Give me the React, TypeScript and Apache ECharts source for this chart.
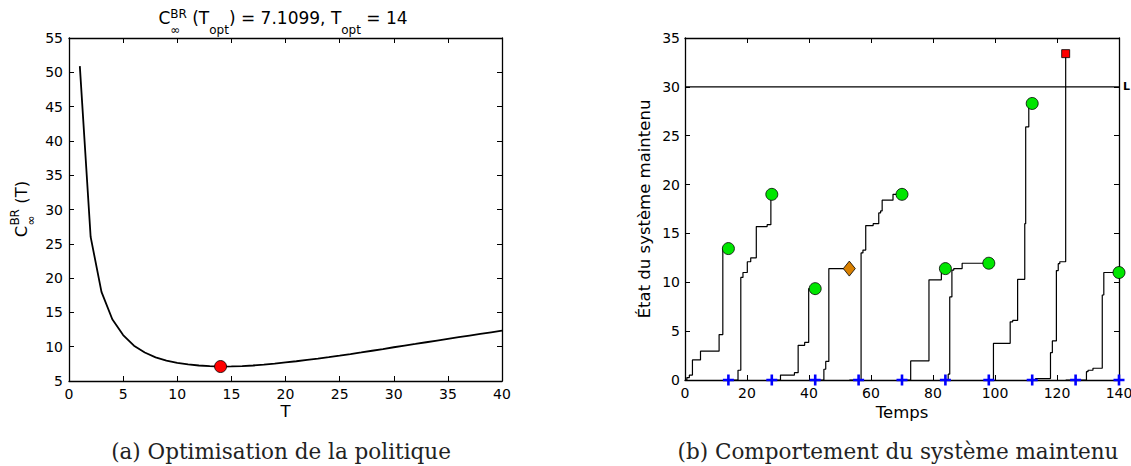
import React, { useEffect, useRef } from "react";
import * as echarts from "echarts";

// ---------- (a) cost curve ----------
const costT = [1, 2, 3, 4, 5, 6, 7, 8, 9, 10, 11, 12, 13, 14, 15, 16, 17, 18, 19, 20, 21, 22, 23, 24, 25, 26, 27, 28, 29, 30, 31, 32, 33, 34, 35, 36, 37, 38, 39, 40];
const costC = [50.9, 26.0, 18.0, 14.0, 11.7, 10.15, 9.15, 8.45, 7.98, 7.65, 7.42, 7.26, 7.16, 7.11, 7.12, 7.17, 7.26, 7.38, 7.54, 7.71, 7.88, 8.07, 8.26, 8.47, 8.69, 8.92, 9.16, 9.41, 9.66, 9.92, 10.16, 10.4, 10.65, 10.9, 11.14, 11.38, 11.62, 11.86, 12.1, 12.33];
const tOpt = 14;
const cOpt = 7.1099;

// ---------- (b) maintained system behaviour ----------
const cycle1T = [0, 0.6, 1.4, 2.4, 5.0, 11.0, 12.2, 14];
const cycle1V = [0, 0.25, 0.5, 2.05, 2.95, 4.65, 13.45, 13.45];
const cycle2T = [14, 17.1, 18.0, 18.7, 20.1, 21.2, 23.0, 26.5, 27.7, 28];
const cycle2V = [0, 1.0, 10.5, 11.0, 12.1, 12.5, 15.7, 15.9, 19.0, 19.0];
const cycle3T = [28, 30.8, 35.3, 36.5, 38.6, 39.9, 42];
const cycle3V = [0, 0.5, 0.75, 3.55, 3.85, 9.35, 9.35];
const cycle4T = [42, 44.8, 45.4, 46.4, 53];
const cycle4V = [0, 1.1, 1.9, 11.4, 11.4];
const cycle5T = [53, 56.8, 57.4, 58.3, 60.7, 62.5, 63.1, 63.6, 67.1, 70];
const cycle5V = [0, 13.0, 13.3, 15.8, 16.0, 17.1, 17.3, 18.4, 19.0, 19.0];
const cycle6T = [70, 72.8, 78.7, 82.7, 84];
const cycle6V = [0, 1.95, 10.25, 11.4, 11.4];
const cycle7T = [84, 84.9, 85.4, 86.1, 86.7, 89.4, 98];
const cycle7V = [0, 0.6, 8.5, 11.25, 11.4, 11.95, 11.95];
const cycle8T = [98, 99.5, 104.9, 105.7, 107.3, 109.6, 109.9, 110.9, 112];
const cycle8V = [0, 3.75, 5.95, 6.1, 10.3, 16.0, 25.9, 28.3, 28.3];
const cycle9T = [112, 113.1, 117.9, 118.5, 119.8, 120.4, 120.9, 122.8];
const cycle9V = [0, 0.15, 2.8, 4.0, 11.2, 11.9, 12.1, 33.4];
const cycle10T = [122.8, 129.5, 130.0, 131.6, 134.6, 135.1, 140];
const cycle10V = [0, 0.85, 1.0, 1.2, 8.7, 11.0, 11.0];

const inspectionTimes = [14, 28, 42, 56, 70, 84, 98, 112, 126, 140];
const pmTimes = [14, 28, 42, 70, 84, 98, 112, 140];
const pmStates = [13.45, 19.0, 9.35, 19.0, 11.4, 11.95, 28.3, 11.0];
const failureT = [53];
const failureV = [11.4];
const breakdownT = [122.8];
const breakdownV = [33.4];
const thresholdL = 30;

const SANS = '"DejaVu Sans", sans-serif';
const SERIF = '"DejaVu Serif", serif';

let measureCtx: CanvasRenderingContext2D | null = null;
function textWidth(text: string, size: number, family = SANS) {
  if (!measureCtx) measureCtx = document.createElement("canvas").getContext("2d");
  measureCtx!.font = `${size}px ${family}`;
  return measureCtx!.measureText(text).width;
}

type Piece = { text: string; size: number; shift: number; stackNext?: boolean };

function layoutPieces(pieces: Piece[], centerX: number, baselineY: number) {
  const pos: number[] = [];
  let x = 0;
  for (let i = 0; i < pieces.length; i++) {
    const p = pieces[i];
    pos.push(x);
    if (p.stackNext && i + 1 < pieces.length) {
      const q = pieces[i + 1];
      pos.push(x);
      x += Math.max(textWidth(p.text, p.size), textWidth(q.text, q.size));
      i++;
    } else {
      x += textWidth(p.text, p.size);
    }
  }
  const start = centerX - x / 2;
  return pieces.map((p, i) => ({
    type: "text",
    x: start + pos[i],
    y: baselineY + p.shift - 0.346 * p.size,
    silent: true,
    style: {
      text: p.text,
      font: `${p.size}px ${SANS}`,
      fill: "#000",
      align: "left",
      verticalAlign: "middle",
    },
  }));
}

const titlePieces: Piece[] = [
  { text: "C", size: 17, shift: 0 },
  { text: "BR", size: 12, shift: -5.5, stackNext: true },
  { text: "\u221e", size: 12, shift: 10.5 },
  { text: " (T", size: 17, shift: 0 },
  { text: "opt", size: 12, shift: 11 },
  { text: ") = 7.1099, T", size: 17, shift: 0 },
  { text: "opt", size: 12, shift: 11 },
  { text: " = 14", size: 17, shift: 0 },
];

const yLabelPieces: Piece[] = [
  { text: "C", size: 16.5, shift: 0 },
  { text: "BR", size: 12, shift: -8, stackNext: true },
  { text: "\u221e", size: 12, shift: 8 },
  { text: " (T)", size: 16.5, shift: 0 },
];

function axisPair(gridIndex: number, min: number, max: number, interval: number, isX: boolean, fontSize: number, labelMargin: number) {
  const common = {
    type: "value",
    gridIndex,
    min,
    max,
    interval,
    axisLine: { show: true, onZero: false, lineStyle: { color: "#000", width: 1.3 } },
    axisTick: { show: true, inside: true, length: 5, lineStyle: { color: "#000", width: 1 } },
    splitLine: { show: false },
  };
  return [
    {
      ...common,
      position: isX ? "bottom" : "left",
      axisLabel: { show: true, color: "#000", fontSize, fontFamily: SANS, margin: labelMargin, hideOverlap: false },
    },
    {
      ...common,
      position: isX ? "top" : "right",
      axisLabel: { show: false },
    },
  ];
}

export default function App() {
  const ref = useRef<HTMLDivElement>(null);
  useEffect(() => {
    if (!ref.current) return;
    const chart = echarts.init(ref.current, null, { renderer: "svg", width: 1131, height: 466 });

    const cycles = [
      [cycle1T, cycle1V], [cycle2T, cycle2V], [cycle3T, cycle3V], [cycle4T, cycle4V], [cycle5T, cycle5V],
      [cycle6T, cycle6V], [cycle7T, cycle7V], [cycle8T, cycle8V], [cycle9T, cycle9V], [cycle10T, cycle10V],
    ];

    const cycleSeries = cycles.map(([ts, vs]) => ({
      type: "line",
      xAxisIndex: 2,
      yAxisIndex: 2,
      step: "end",
      symbol: "none",
      silent: true,
      lineStyle: { color: "#000", width: 1.2 },
      data: ts.map((t, i) => [t, vs[i]]),
      z: 3,
    }));

    const option: any = {
      animation: false,
      backgroundColor: "#fff",
      grid: [
        { left: 69, top: 38, width: 433, height: 343, outerBoundsMode: "none", containLabel: false },
        { left: 685, top: 38, width: 434, height: 342, outerBoundsMode: "none", containLabel: false },
      ],
      xAxis: [
        ...axisPair(0, 0, 40, 5, true, 14, 6),
        ...axisPair(1, 0, 140, 20, true, 14, 6),
      ],
      yAxis: [
        ...axisPair(0, 5, 55, 5, false, 14, 6),
        ...axisPair(1, 0, 35, 5, false, 14, 5),
      ],
      series: [
        {
          type: "line",
          xAxisIndex: 0,
          yAxisIndex: 0,
          symbol: "none",
          silent: true,
          lineStyle: { color: "#000", width: 1.8 },
          data: costT.map((t, i) => [t, costC[i]]),
        },
        {
          type: "scatter",
          xAxisIndex: 0,
          yAxisIndex: 0,
          symbol: "circle",
          symbolSize: 12,
          clip: false,
          silent: true,
          itemStyle: { color: "#ff0000", borderColor: "#000", borderWidth: 0.8, opacity: 1 },
          data: [[tOpt, cOpt]],
          z: 5,
        },
        {
          type: "line",
          xAxisIndex: 2,
          yAxisIndex: 2,
          symbol: "none",
          silent: true,
          lineStyle: { color: "#000", width: 1.2 },
          data: [[0, thresholdL], [140, thresholdL]],
          z: 3,
        },
        ...cycleSeries,
        {
          type: "scatter",
          xAxisIndex: 2,
          yAxisIndex: 2,
          symbol: "path://M4.2,0H6.8V4.2H11V6.8H6.8V11H4.2V6.8H0V4.2H4.2Z",
          symbolSize: 11,
          clip: false,
          silent: true,
          itemStyle: { color: "#0000ff", opacity: 1 },
          data: inspectionTimes.map((t) => [t, 0]),
          z: 6,
        },
        {
          type: "scatter",
          xAxisIndex: 2,
          yAxisIndex: 2,
          symbol: "circle",
          symbolSize: 12,
          clip: false,
          silent: true,
          itemStyle: { color: "#00e600", borderColor: "#000", borderWidth: 0.8, opacity: 1 },
          data: pmTimes.map((t, i) => [t, pmStates[i]]),
          z: 7,
        },
        {
          type: "scatter",
          xAxisIndex: 2,
          yAxisIndex: 2,
          symbol: "diamond",
          symbolSize: [12, 15],
          clip: false,
          silent: true,
          itemStyle: { color: "#d98000", borderColor: "#000", borderWidth: 0.8, opacity: 1 },
          data: failureT.map((t, i) => [t, failureV[i]]),
          z: 7,
        },
        {
          type: "scatter",
          xAxisIndex: 2,
          yAxisIndex: 2,
          symbol: "rect",
          symbolSize: 8,
          clip: false,
          silent: true,
          itemStyle: { color: "#ff0000", borderColor: "#000", borderWidth: 0.8, opacity: 1 },
          data: breakdownT.map((t, i) => [t, breakdownV[i]]),
          z: 7,
        },
      ],
      graphic: [
        ...layoutPieces(titlePieces, 283, 23.5),
        {
          type: "group",
          x: 27,
          y: 209,
          rotation: Math.PI / 2,
          children: layoutPieces(yLabelPieces, 0, 0),
        },
        {
          type: "text",
          x: 285.5,
          y: 411.5,
          silent: true,
          style: { text: "T", font: `16.5px ${SANS}`, fill: "#000", align: "center", verticalAlign: "middle" },
        },
        {
          type: "text",
          x: 902,
          y: 412,
          silent: true,
          style: { text: "Temps", font: `16.5px ${SANS}`, fill: "#000", align: "center", verticalAlign: "middle" },
        },
        {
          type: "text",
          x: 644,
          y: 209,
          rotation: Math.PI / 2,
          silent: true,
          style: { text: "\u00c9tat du syst\u00e8me maintenu", font: `16.5px ${SANS}`, fill: "#000", align: "center", verticalAlign: "middle" },
        },
        {
          type: "text",
          x: 1123,
          y: 86,
          silent: true,
          style: { text: "L", font: `bold 11px ${SANS}`, fill: "#000", align: "left", verticalAlign: "middle" },
        },
        {
          type: "text",
          x: 281,
          y: 451,
          silent: true,
          style: { text: "(a) Optimisation de la politique", font: `21.5px ${SERIF}`, fill: "#222", align: "center", verticalAlign: "middle" },
        },
        {
          type: "text",
          x: 898,
          y: 451,
          silent: true,
          style: { text: "(b) Comportement du syst\u00e8me maintenu", font: `21.5px ${SERIF}`, fill: "#222", align: "center", verticalAlign: "middle" },
        },
      ],
    };

    chart.setOption(option);
    return () => chart.dispose();
  }, []);

  return (
    <div
      ref={ref}
      style={{ position: "absolute", left: 0, top: 0, width: 1131, height: 466, background: "#fff" }}
    />
  );
}
